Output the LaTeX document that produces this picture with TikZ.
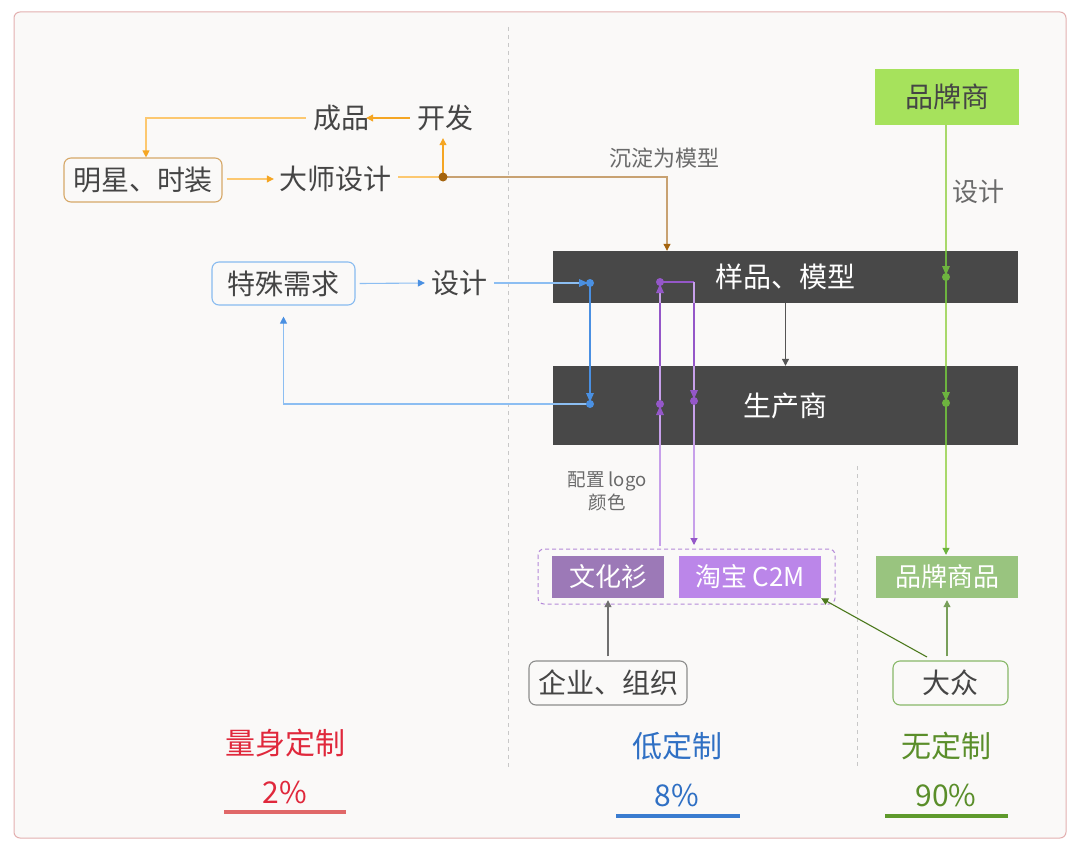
\documentclass[tikz,border=0pt]{standalone}
\usepackage{fontspec}
\setmainfont{Noto Sans CJK SC}
\usetikzlibrary{arrows.meta}
\definecolor{bgc}{HTML}{FAF9F8}
\definecolor{framec}{HTML}{E3B0B0}
\definecolor{textc}{HTML}{454545}
\definecolor{lblc}{HTML}{6A6A6A}
\definecolor{orL}{HTML}{FCC870}
\definecolor{orD}{HTML}{F5A623}
\definecolor{brownD}{HTML}{A5650F}
\definecolor{brownL}{HTML}{C8A272}
\definecolor{blueL}{HTML}{8CBEF2}
\definecolor{blueD}{HTML}{4A90E2}
\definecolor{purL}{HTML}{C7A0EA}
\definecolor{purD}{HTML}{9457C8}
\definecolor{grL}{HTML}{A8D86A}
\definecolor{grD}{HTML}{6DB33F}
\definecolor{barc}{HTML}{484848}
\definecolor{wenc}{HTML}{9C79B7}
\definecolor{taoc}{HTML}{BB86E9}
\definecolor{ppsc}{HTML}{A6E25C}
\definecolor{ppspc}{HTML}{99C47F}
\definecolor{redc}{HTML}{E0283C}
\definecolor{redline}{HTML}{E06868}
\definecolor{bluec}{HTML}{2F70C4}
\definecolor{blueline}{HTML}{3A7CD0}
\definecolor{greenc}{HTML}{5A8E2A}
\definecolor{greenline}{HTML}{5E9A2C}
\definecolor{divc}{HTML}{C8C8C8}
\definecolor{darkgr}{HTML}{4D7A1E}
\definecolor{midgr}{HTML}{789F5A}
\definecolor{mxc}{HTML}{D6A868}
\definecolor{tsc}{HTML}{88BBF0}
\definecolor{qyc}{HTML}{8C8C8C}
\definecolor{dzc}{HTML}{88B868}
\definecolor{arrg}{HTML}{555555}
\begin{document}
\begin{tikzpicture}[x=1pt,y=-1pt,
  txt/.style={font=\fontsize{28}{32}\selectfont, text=textc, inner sep=1pt},
  lbl/.style={font=\fontsize{22}{26}\selectfont, text=lblc, inner sep=1pt},
  rbox/.style={draw, rounded corners=7pt, line width=1.1pt, fill=bgc,
    font=\fontsize{28}{32}\selectfont, text=textc, inner sep=0pt},
  bar/.style={fill=barc, text=white, font=\fontsize{28}{32}\selectfont,
    minimum width=465pt, inner sep=0pt},
  cbox/.style={text=white, font=\fontsize{26}{30}\selectfont, inner sep=0pt,
    minimum height=42pt},
  con/.style={-{Triangle[length=7pt,width=7pt]}, line width=1.1pt},
  btm/.style={font=\fontsize{30}{34}\selectfont, inner sep=0pt},
  uline/.style={line width=4pt},
  mk/.pic={\fill (0,0) circle (4); \fill (-11,-4) -- (-11,4) -- (-2,0) -- cycle;}
]
\useasboundingbox (0,0) rectangle (1080,851);
\fill[white] (0,0) rectangle (1080,851);
\draw[framec, fill=bgc, line width=1pt, rounded corners=6pt] (14,12) rectangle (1066,838);
% dividers
\draw[divc, line width=0.8pt, dash pattern=on 4pt off 4pt] (508,27) -- (508,768);
\draw[divc, line width=0.8pt, dash pattern=on 4pt off 4pt] (857,466) -- (857,768);

% nodes
\node[txt] (chengpin) at (341,118) {成品};
\node[txt] (kaifa) at (445,118) {开发};
\node[rbox, draw=mxc, minimum width=158pt, minimum height=44pt] (mingxing) at (143,180) {明星、时装};
\node[txt] (dashi) at (335,179) {大师设计};
\coordinate (dot1) at (443,177);
\node[lbl] (chendian) at (664,158) {沉淀为模型};

\node[bar, minimum height=52pt] (yangpin) at (785.5,277) {样品、模型};
\node[bar, minimum height=79pt] (shengchan) at (785.5,405.5) {生产商};

\node[rbox, draw=tsc, minimum width=143pt, minimum height=43pt] (teshu) at (283.5,283.5) {特殊需求};
\node[txt] (sheji1) at (459,283) {设计};

\node[fill=ppsc, text=textc, font=\fontsize{28}{32}\selectfont, minimum width=144pt, minimum height=56pt, inner sep=0pt] (pps) at (947,97) {品牌商};
\node[lbl, font=\fontsize{26}{30}\selectfont] (sheji2) at (978,192) {设计};

\draw[purD!70, line width=1pt, dash pattern=on 4pt off 3pt, rounded corners=6pt] (538,549) rectangle (835,604);
\node[cbox, fill=wenc, minimum width=112pt] (wen) at (608,577) {文化衫};
\node[cbox, fill=taoc, minimum width=142pt] (tao) at (750,577) {淘宝 C2M};
\node[cbox, fill=ppspc, minimum width=142pt] (ppsp) at (947,577) {品牌商品};
\node[lbl, font=\fontsize{18.5}{22}\selectfont, align=center] (peizhi) at (607,491) {配置 logo\\[1pt]颜色};

\node[rbox, draw=qyc, minimum width=158pt, minimum height=44pt] (qiye) at (608,683) {企业、组织};
\node[rbox, draw=dzc, minimum width=115pt, minimum height=44pt] (dazhong) at (950.5,683) {大众};

% bottom labels
\node[btm, text=redc] (l1) at (285,743) {量身定制};
\node[btm, text=redc] (p1) at (285,792) {2\%};
\draw[uline, redline] (224,812) -- (346,812);
\node[btm, text=bluec] (l2) at (677,746) {低定制};
\node[btm, text=bluec] (p2) at (677,795) {8\%};
\draw[uline, blueline] (616,816) -- (740,816);
\node[btm, text=greenc] (l3) at (946,746) {无定制};
\node[btm, text=greenc] (p3) at (946,795) {90\%};
\draw[uline, greenline] (885,816) -- (1008,816);

% orange connectors
\draw[con, orL, -{Triangle[length=7pt,width=7pt,color=orD]}] ([xshift=4pt]mingxing.east |- dashi) -- ([xshift=-4pt]dashi.west);
\draw[orL, line width=1.1pt] ([xshift=6pt]dashi.east |- dot1) -- (dot1);
\draw[con, orD] (dot1) -- ([yshift=-6pt]kaifa.south -| dot1);
\draw[con, orD] ([xshift=-6pt]kaifa.west) -- ([xshift=-4pt]chengpin.east |- kaifa);
\draw[con, orL, -{Triangle[length=7pt,width=7pt,color=orD]}] ([xshift=-6pt]chengpin.west) -| ([xshift=3pt]mingxing.north);
\draw[brownL, line width=1.1pt, -{Triangle[length=7pt,width=7pt,color=brownD]}] (dot1) -| ([xshift=-118.5pt]yangpin.north);
\fill[brownD] (dot1) circle (4.5);

% blue connectors
\coordinate (b1) at (590,283);
\coordinate (b2) at (590,404);
\draw[con, blueL, -{Triangle[length=7pt,width=7pt,color=blueD]}] ([xshift=4pt]teshu.east) -- ([xshift=-5pt]sheji1.west);
\draw[blueL, line width=1.1pt] ([xshift=6pt]sheji1.east) -- (b1);
\draw[blueD, line width=1.1pt] (b1) -- (b2);
\draw[con, blueL, -{Triangle[length=7pt,width=7pt,color=blueD]}, shorten >=11pt] (b2) -| (teshu.south);
\pic[blueD] at (b1) {mk};
\pic[blueD, rotate=-90] at (b2) {mk};

% purple connectors
\coordinate (pa) at (660,282);
\coordinate (pb) at (660,404);
\coordinate (pc) at (694,401);
\coordinate (pt) at (694,282);
\coordinate (ps) at (660,546);
\coordinate (pe) at (694,545);
\draw[purL, line width=1.1pt] (ps) -- (pa);
\draw[purD, line width=1.1pt] (pa) -- (pt);
\draw[con, purL, -{Triangle[length=7pt,width=7pt,color=purD]}] (pt) -- (pe);
\draw[purD, line width=1.1pt] (660,303) -- (660,366) (694,303) -- (694,366);
\pic[purD, rotate=90] at (pa) {mk};
\pic[purD, rotate=90] at (pb) {mk};
\pic[purD, rotate=-90] at (pc) {mk};

% green connector
\coordinate (g1) at (946,277);
\coordinate (g2) at (946,403);
\draw[con, grL, -{Triangle[length=7pt,width=7pt,color=grD]}] (pps.south -| g1) -- ([yshift=1pt]ppsp.north -| g1);
\draw[grD, line width=1.1pt] (946,251) -- (946,303) (946,366) -- (946,445);
\pic[grD, rotate=-90] at (g1) {mk};
\pic[grD, rotate=-90] at (g2) {mk};

% other connectors
\draw[con, arrg] (yangpin.south) -- (shengchan.north);
\draw[con, qyc!80!black] ([yshift=4pt]qiye.north) -- ([yshift=-2pt]wen.south);
\draw[con, darkgr] (927,657) -- (tao.south east);
\draw[con, midgr] ([yshift=4pt]dazhong.north -| ppsp) -- ([yshift=-2pt]ppsp.south);
\end{tikzpicture}
\end{document}
